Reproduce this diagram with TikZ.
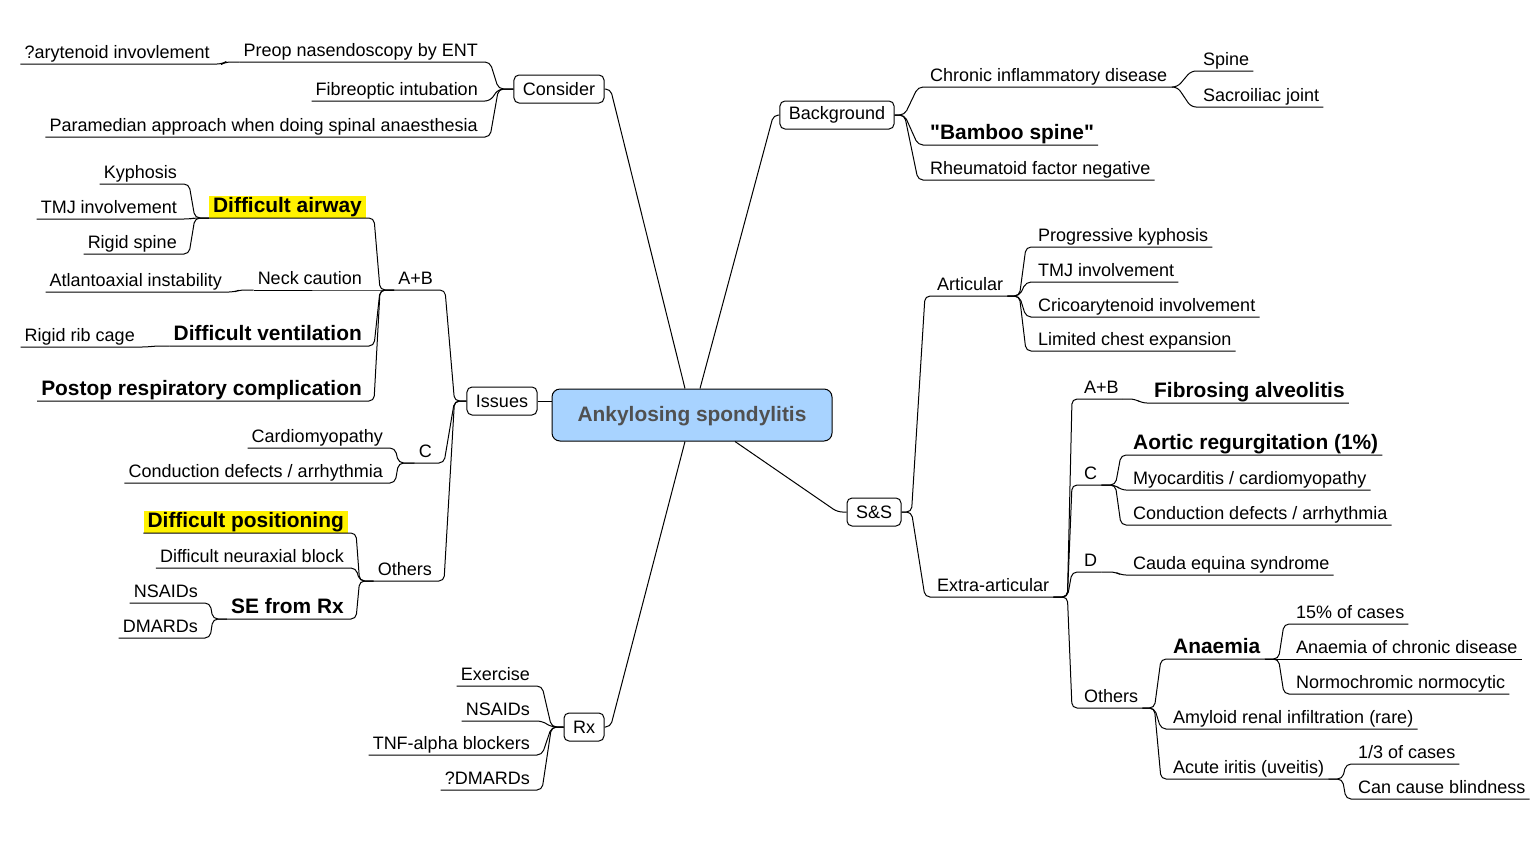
\documentclass[tikz,border=0pt]{standalone}
\usepackage{fontspec}
\setmainfont{Liberation Sans}
\definecolor{hubblue}{HTML}{A8D3FF}
\definecolor{hubtext}{HTML}{505050}
\newcommand{\nsize}{\fontsize{18}{21}\selectfont}
\newcommand{\bsize}{\fontsize{20.9}{24}\selectfont\bfseries}
% branch from a parent point to a child on the left / right
\newcommand{\lbranch}[3][12]{\draw[link] (#2) -- ([xshift=-#1]#2) -- ([xshift=8]#3.south east) -- (#3.south west);}
\newcommand{\rbranch}[3][12]{\draw[link] (#2) -- ([xshift=#1]#2) -- ([xshift=-8]#3.south west) -- (#3.south east);}
\tikzset{
  topic/.style={draw, rounded corners=5, line width=1pt, minimum height=28, inner xsep=9},
  leaf/.style={inner xsep=4, inner ysep=1, text depth=4, text height=13},
  lleaf/.style={leaf, anchor=south east},
  rleaf/.style={leaf, anchor=south west},
  key/.style={font=\bsize, text height=16},
  hilite/.style={fill=yellow},
  link/.style={line width=1pt, rounded corners=5},
}

\begin{document}
\begin{tikzpicture}[x=1pt, y=-1pt, font=\nsize]
\useasboundingbox (0,0) rectangle (1536,844);

% central topic
\node[draw, line width=1pt, fill=hubblue, rounded corners=8, minimum width=280, minimum height=52,
  text=hubtext, font=\bsize, text depth=2] (hub) at (692,415) {Ankylosing spondylitis};

% main topics
\node[topic] (cons) at (559,89) {Consider};
\node[topic] (iss) at (502,401) {Issues};
\node[topic] (rx) at (584,727) {Rx};
\node[topic] (bg) at (837,115) {Background};
\node[topic] (ss) at (874,512) {S\&S};

\draw[link] (cons.east) -- ++(6,0) -- ([xshift=-7]hub.north);
\draw[link] (bg.west) -- ++(-6,0) -- ([xshift=8]hub.north);
\draw[link] (rx.east) -- ++(6,0) -- ([xshift=-7]hub.south);
\draw[link] (ss.west) -- ++(-9,0) -- ([xshift=43]hub.south);
\draw[link] (iss.east) -- (iss.east -| hub.west);

% Consider
\node[lleaf] (preop) at (482,62) {Preop nasendoscopy by ENT};
\node[lleaf] (aryt) at (214,64) {?arytenoid invovlement};
\node[lleaf] (fibre) at (482,101) {Fibreoptic intubation};
\node[lleaf] (param) at (482,137) {Paramedian approach when doing spinal anaesthesia};
\lbranch[15]{cons.west}{preop}
\lbranch[15]{cons.west}{fibre}
\lbranch[15]{cons.west}{param}
\lbranch[14]{preop.south west}{aryt}

% Issues
\node[lleaf] (ab) at (437,290) {A+B};
\node[lleaf, key, hilite] (airway) at (366,218) {Difficult airway};
\node[lleaf] (kyph) at (181,184) {Kyphosis};
\node[lleaf] (tmjl) at (181,219) {TMJ involvement};
\node[lleaf] (rigsp) at (181,254) {Rigid spine};
\node[lleaf] (neck) at (366,290) {Neck caution};
\node[lleaf] (atl) at (226,292) {Atlantoaxial instability};
\node[lleaf, key] (vent) at (366,346) {Difficult ventilation};
\node[lleaf] (rib) at (139,347) {Rigid rib cage};
\node[lleaf, key] (postop) at (366,401) {Postop respiratory complication};
\node[lleaf] (cl) at (436,463) {C};
\node[lleaf] (cardio) at (387,448) {Cardiomyopathy};
\node[lleaf] (condl) at (387,483) {Conduction defects / arrhythmia};
\node[lleaf] (othl) at (436,581) {Others};
\node[lleaf, key, hilite] (posit) at (348,533) {Difficult positioning};
\node[lleaf] (neur) at (348,568) {Difficult neuraxial block};
\node[lleaf, key] (serx) at (348,619) {SE from Rx};
\node[lleaf] (nsl) at (202,603) {NSAIDs};
\node[lleaf] (dml) at (202,638) {DMARDs};
\lbranch{iss.west}{ab}
\lbranch{iss.west}{cl}
\lbranch{iss.west}{othl}
\lbranch[14]{ab.south west}{airway}
\lbranch[14]{ab.south west}{neck}
\lbranch[14]{ab.south west}{vent}
\lbranch[14]{ab.south west}{postop}
\lbranch[14]{airway.south west}{kyph}
\lbranch[14]{airway.south west}{tmjl}
\lbranch[14]{airway.south west}{rigsp}
\lbranch[14]{neck.south west}{atl}
\lbranch[14]{vent.south west}{rib}
\lbranch[16]{cl.south west}{cardio}
\lbranch[16]{cl.south west}{condl}
\lbranch[14]{othl.south west}{posit}
\lbranch[14]{othl.south west}{neur}
\lbranch[14]{othl.south west}{serx}
\lbranch[14]{serx.south west}{nsl}
\lbranch[14]{serx.south west}{dml}

% Rx
\node[lleaf] (exer) at (534,686) {Exercise};
\node[lleaf] (rxns) at (534,721) {NSAIDs};
\node[lleaf] (tnf) at (534,755) {TNF-alpha blockers};
\node[lleaf] (rxdm) at (534,790) {?DMARDs};
\lbranch{rx.west}{exer}
\lbranch{rx.west}{rxns}
\lbranch{rx.west}{tnf}
\lbranch{rx.west}{rxdm}

% Background
\node[rleaf] (chron) at (926,87) {Chronic inflammatory disease};
\node[rleaf] (spine) at (1199,71) {Spine};
\node[rleaf] (sacro) at (1199,107) {Sacroiliac joint};
\node[rleaf, key] (bamboo) at (926,145) {\textquotedbl Bamboo spine\textquotedbl};
\node[rleaf] (rheum) at (926,180) {Rheumatoid factor negative};
\rbranch[10]{bg.east}{chron}
\rbranch[10]{bg.east}{bamboo}
\rbranch[10]{bg.east}{rheum}
\rbranch[6]{chron.south east}{spine}
\rbranch[6]{chron.south east}{sacro}

% S&S
\node[rleaf] (artic) at (933,296) {Articular};
\node[rleaf] (prog) at (1034,247) {Progressive kyphosis};
\node[rleaf] (tmjr) at (1034,282) {TMJ involvement};
\node[rleaf] (crico) at (1034,317) {Cricoarytenoid involvement};
\node[rleaf] (chest) at (1034,351) {Limited chest expansion};
\node[rleaf] (extra) at (933,597) {Extra-articular};
\node[rleaf] (abr) at (1080,399) {A+B};
\node[rleaf, key] (fibro) at (1150,403) {Fibrosing alveolitis};
\node[rleaf] (cr) at (1080,485) {C};
\node[rleaf, key] (aortic) at (1129,455) {Aortic regurgitation (1\%)};
\node[rleaf] (myo) at (1129,490) {Myocarditis / cardiomyopathy};
\node[rleaf] (condr) at (1129,525) {Conduction defects / arrhythmia};
\node[rleaf] (dr) at (1080,572) {D};
\node[rleaf] (cauda) at (1129,575) {Cauda equina syndrome};
\node[rleaf] (othr) at (1080,708) {Others};
\node[rleaf, key] (anaem) at (1169,659) {Anaemia};
\node[rleaf] (pct) at (1292,624) {15\% of cases};
\node[rleaf] (acd) at (1292,659) {Anaemia of chronic disease};
\node[rleaf] (normo) at (1292,694) {Normochromic normocytic};
\node[rleaf] (amyl) at (1169,729) {Amyloid renal infiltration (rare)};
\node[rleaf] (iritis) at (1169,779) {Acute iritis (uveitis)};
\node[rleaf] (third) at (1354,764) {1/3 of cases};
\node[rleaf] (blind) at (1354,799) {Can cause blindness};
\rbranch[10]{ss.east}{artic}
\rbranch[10]{ss.east}{extra}
\rbranch{artic.south east}{prog}
\rbranch{artic.south east}{tmjr}
\rbranch{artic.south east}{crico}
\rbranch{artic.south east}{chest}
\rbranch[14]{extra.south east}{abr}
\rbranch[14]{extra.south east}{cr}
\rbranch[14]{extra.south east}{dr}
\rbranch[14]{extra.south east}{othr}
\rbranch{abr.south east}{fibro}
\rbranch[14]{cr.south east}{aortic}
\rbranch[14]{cr.south east}{myo}
\rbranch[14]{cr.south east}{condr}
\rbranch[14]{dr.south east}{cauda}
\rbranch{othr.south east}{anaem}
\rbranch{othr.south east}{amyl}
\rbranch{othr.south east}{iritis}
\rbranch[14]{anaem.south east}{pct}
\rbranch[14]{anaem.south east}{acd}
\rbranch[14]{anaem.south east}{normo}
\rbranch[14]{iritis.south east}{third}
\rbranch[14]{iritis.south east}{blind}
\end{tikzpicture}
\end{document}
